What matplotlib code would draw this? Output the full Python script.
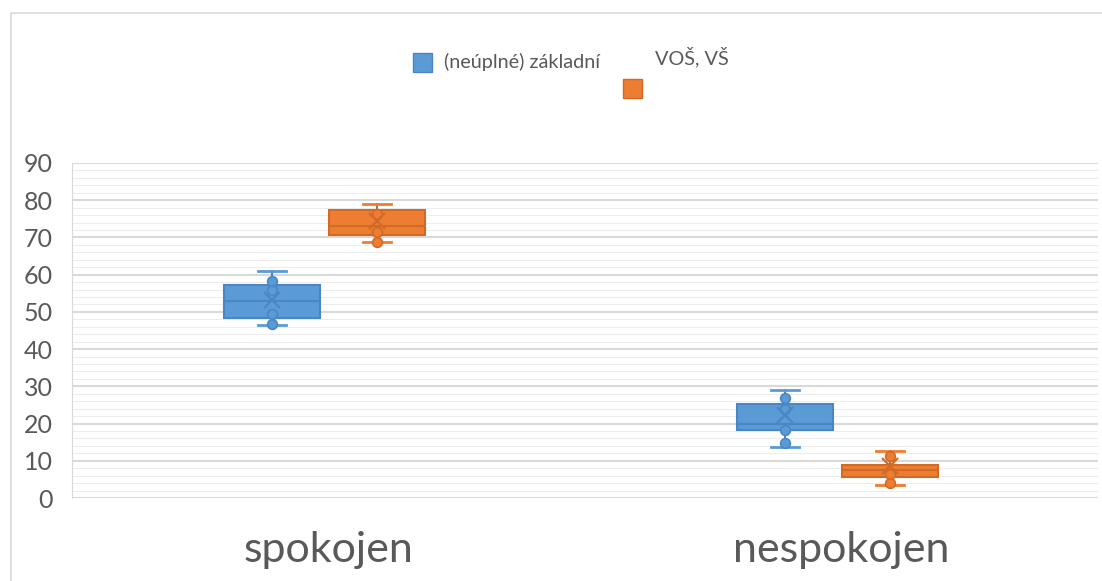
import matplotlib.pyplot as plt
from matplotlib.patches import Rectangle
from matplotlib.ticker import MultipleLocator

categories = ['spokojen', 'nespokojen']
series = ['(neúplné) základní', 'VOŠ, VŠ']

# (neúplné) základní
zakl_lo = [46.5, 13.8]
zakl_q1 = [48.3, 18.3]
zakl_med = [52.8, 19.8]
zakl_q3 = [57.3, 25.3]
zakl_hi = [60.9, 29.0]
zakl_mean = [53.2, 22.3]
zakl_points = [[46.7, 49.4, 55.9, 58.2], [14.9, 18.3, 23.9, 27.0]]

# VOŠ, VŠ
vs_lo = [68.9, 3.5]
vs_q1 = [70.7, 5.7]
vs_med = [73.2, 7.5]
vs_q3 = [77.4, 9.0]
vs_hi = [78.9, 12.6]
vs_mean = [74.4, 8.7]
vs_points = [[68.9, 71.5, 76.3], [4.0, 6.4, 11.3]]

colors = ['#5B9BD5', '#ED7D31']
edges = ['#4A86C4', '#D06A26']
offsets = [-0.11, 0.095]
box_w = 0.187

fig = plt.figure(figsize=(11.02, 5.81), dpi=100)
ax = fig.add_axes([72 / 1102, 1 - 498 / 581, 1026 / 1102, 335 / 581])

groups = [
    (zakl_lo, zakl_q1, zakl_med, zakl_q3, zakl_hi, zakl_mean, zakl_points),
    (vs_lo, vs_q1, vs_med, vs_q3, vs_hi, vs_mean, vs_points),
]

for s, (lo, q1, med, q3, hi, mean, pts) in enumerate(groups):
    stats = []
    for i in range(len(categories)):
        stats.append({'whislo': lo[i], 'q1': q1[i], 'med': med[i], 'q3': q3[i],
                      'whishi': hi[i], 'fliers': []})
    pos = [i + offsets[s] for i in range(len(categories))]
    ax.bxp(stats, positions=pos, widths=box_w, patch_artist=True,
           showfliers=False, capwidths=[0.055] * len(pos),
           boxprops=dict(facecolor=colors[s], edgecolor=edges[s], linewidth=1.5),
           medianprops=dict(color=edges[s], linewidth=1.5),
           whiskerprops=dict(color=edges[s], linewidth=1.5),
           capprops=dict(color=colors[s], linewidth=2), zorder=3)
    for i in range(len(categories)):
        ax.plot([pos[i]] * len(pts[i]), pts[i], 'o', ms=7, mfc=colors[s],
                mec=edges[s], mew=1.2, zorder=4)
        ax.plot(pos[i], mean[i], 'x', ms=11, mew=1.6, color=edges[s], zorder=4)

ax.set_xlim(-0.5, 1.5)
ax.set_ylim(0, 90)
ax.yaxis.set_major_locator(MultipleLocator(10))
ax.yaxis.set_minor_locator(MultipleLocator(2))
ax.grid(axis='y', which='major', color='#D9D9D9', linewidth=1.5, zorder=0)
ax.grid(axis='y', which='minor', color='#EDEDED', linewidth=0.8, zorder=0)
ax.set_axisbelow(True)
for sp in ['top', 'right', 'bottom']:
    ax.spines[sp].set_visible(False)
ax.spines['left'].set_color('#D9D9D9')
ax.tick_params(axis='y', which='both', length=0, pad=14, labelsize=18,
               labelcolor='#595959')
ax.tick_params(axis='x', length=0, pad=24, labelsize=31, labelcolor='#595959')
ax.set_xticks(range(len(categories)))
ax.set_xticklabels(categories)
for lab in ax.get_xticklabels() + ax.get_yticklabels():
    lab.set_fontfamily('Lato')

# chart frame
fig.patches.append(Rectangle((11 / 1102, -0.1), 1.2, 1 - 13 / 581 + 0.1,
                             transform=fig.transFigure, fill=False,
                             edgecolor='#D9D9D9', linewidth=1.2))

# legend (Excel places the second label above its marker)
fig.patches.append(Rectangle((413 / 1102, 1 - 72 / 581), 19 / 1102, 19 / 581,
                             transform=fig.transFigure, facecolor=colors[0],
                             edgecolor=edges[0], linewidth=1))
fig.text(444 / 1102, 1 - 62 / 581, series[0], fontsize=14.3, color='#595959',
         family='Lato', va='center')
fig.patches.append(Rectangle((623 / 1102, 1 - 98 / 581), 19 / 1102, 19 / 581,
                             transform=fig.transFigure, facecolor=colors[1],
                             edgecolor=edges[1], linewidth=1))
fig.text(655 / 1102, 1 - 57 / 581, series[1], fontsize=14.3, color='#595959',
         family='Lato', va='center')

fig.savefig('out.png', dpi=100)
